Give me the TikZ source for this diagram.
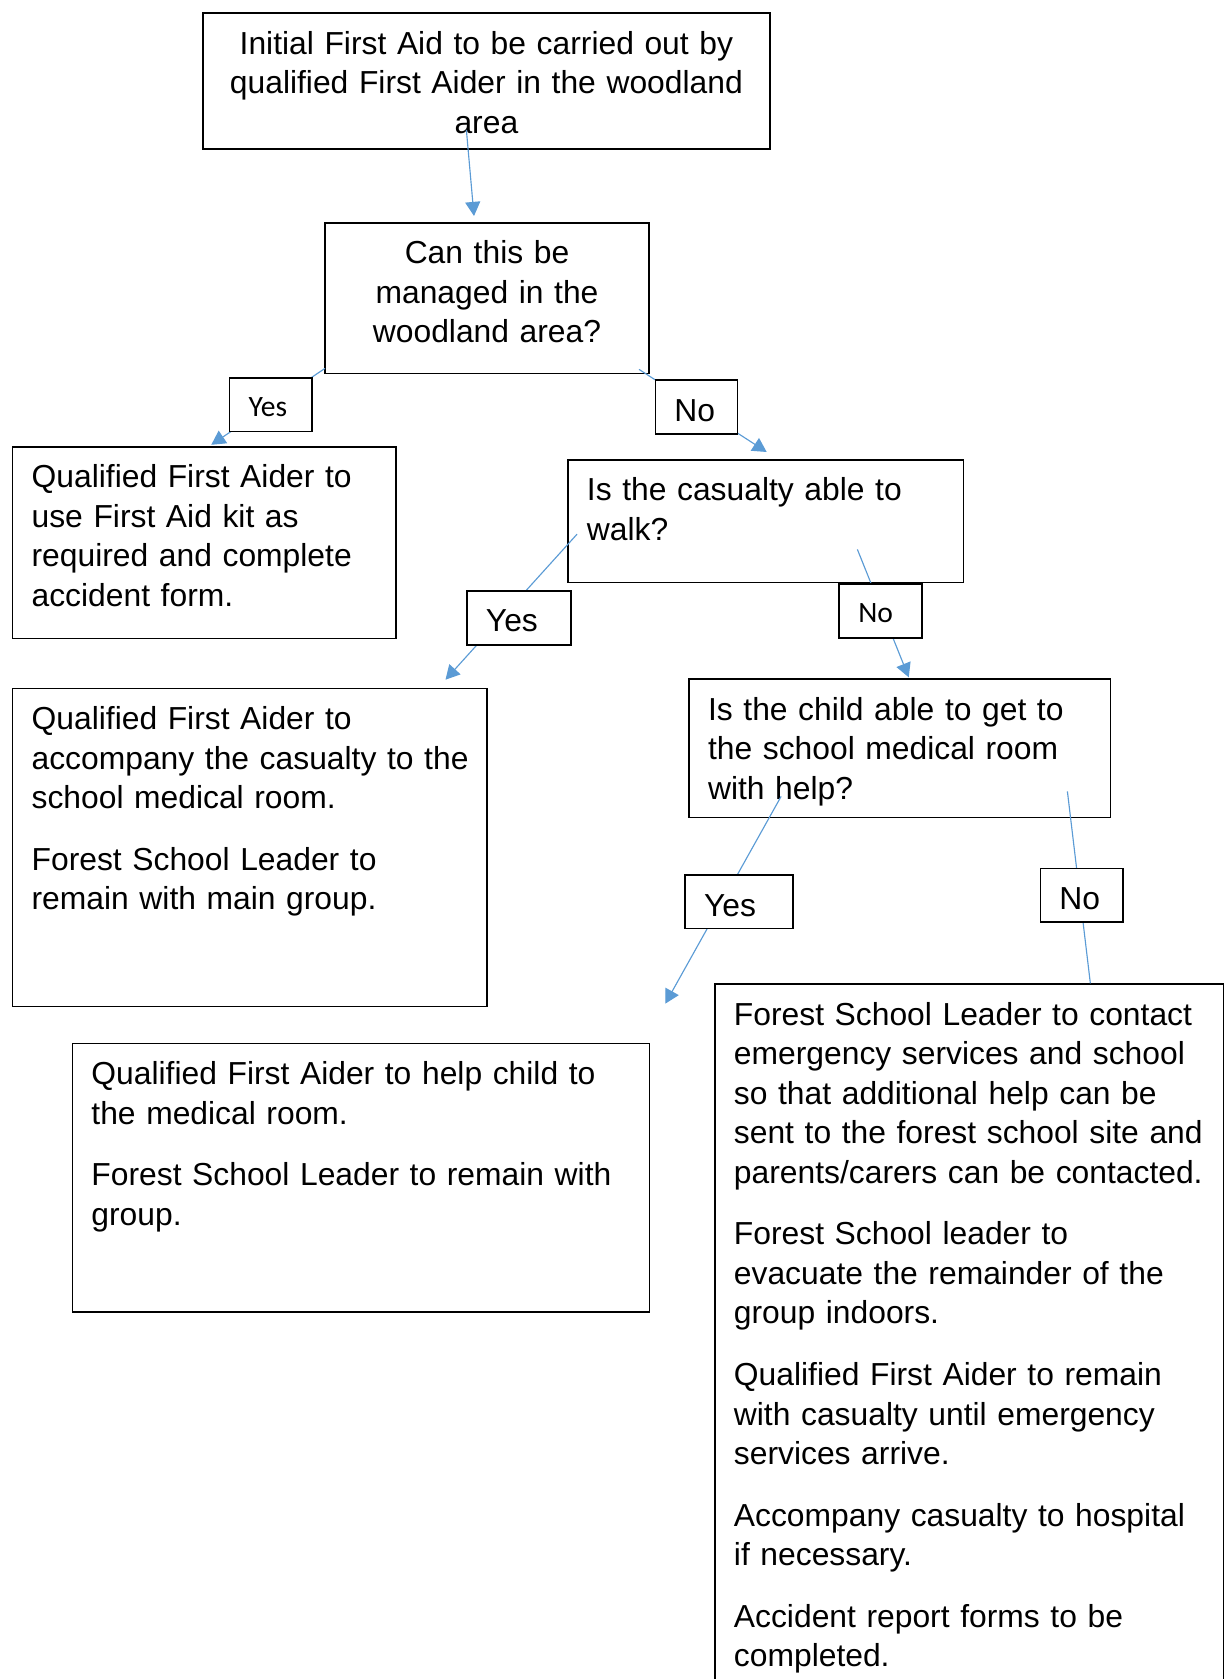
\documentclass[tikz,border=0pt]{standalone}
\usepackage{fontspec}
\setmainfont{Liberation Sans}
\newfontfamily\calibri{Carlito}
\usetikzlibrary{arrows.meta,calc}
\definecolor{wordblue}{HTML}{5B9BD5}
\begin{document}
\begin{tikzpicture}[x=0.44pt,y=-0.44pt]
                \tikzset{box/.style 2 args={draw, line width=.75pt, fill=white, anchor=north west,
                inner xsep=8.4pt, inner ysep=0pt, text height=18pt, text width=#1, text depth=#2,
                align=left, font=\fontsize{14}{17.4}\selectfont},
                tag/.style 2 args={box={#1}{#2}, text height=17pt, font=\calibri\fontsize{13}{16}\selectfont},
                flow/.style={draw=wordblue, line width=.5pt, -{Triangle[length=6.2pt,width=6.6pt]}},
                link/.style={draw=wordblue, line width=.5pt}}

                \clip (0,0) rectangle (1228,1679);

                \node[box={232.7pt}{41.8pt}, align=center] (init) at (202,12.3) {Initial First Aid to be carried out by\\ qualified First Aider in the woodland\\ area};
                \node[box={125.9pt}{48.3pt}, align=center] (q1) at (324,222) {Can this be\\ managed in the\\ woodland area?};
                \node[box={151.9pt}{66.4pt}] (kit) at (11.7,445.8) {Qualified First Aider to\\ use First Aid kit as\\ required and complete\\ accident form.};
                \node[box={157.3pt}{36pt}] (walk) at (567,459) {Is the casualty able to\\ walk?};
                \node[box={191.8pt}{121.9pt}] (accomp) at (11.7,687.7) {Qualified First Aider to\\ \mbox{accompany the casualty to the}\\ school medical room.\\[9.7pt] Forest School Leader to\\ remain with main group.};
                \node[box={168.7pt}{42.9pt}] (child) at (688.1,678.3) {Is the child able to get to\\ the school medical room\\ with help?};
                \node[box={237.1pt}{100.1pt}] (help) at (71.5,1042.7) {Qualified First Aider to help child to\\ the medical room.\\[9.7pt] Forest School Leader to remain with\\ group.};
                \node[box={207pt}{297.3pt}] (big) at (714,983.3) {Forest School Leader to contact\\ emergency services and school\\ so that additional help can be\\ \mbox{sent to the forest school site and}\\ \mbox{parents/carers can be contacted.}\\[9.7pt] Forest School leader to\\ evacuate the remainder of the\\ group indoors.\\[9.7pt] Qualified First Aider to remain\\ with casualty until emergency\\ services arrive.\\[9.7pt] Accompany casualty to hospital\\ if necessary.\\[9.7pt] Accident report forms to be\\ completed.};

                \draw[flow] ($(init.south)+(-20,-20)$) -- ($(q1.north)+(-13,-6)$);
                \draw[flow] ($(q1.south west)+(1,-6)$) -- ($(kit.north)+(7,-1)$);
                \draw[flow] ($(q1.south east)+(-11,-5)$) -- ($(walk.north)+(1,-7)$);
                \draw[flow] ($(walk.west)+(10,13)$) -- ($(accomp.north east)+(-42,-8)$);
                \draw[flow] ($(walk.south east)+(-107,-34)$) -- ($(child.north)+(9,-1)$);
                \draw[flow] ($(child.south west)+(93,-22)$) -- ($(help.north east)+(15,-39)$);
                \draw[link] ($(child.south east)+(-44,-27)$) -- ($(big.north east)+(-134,0)$);

                \node[tag={19.5pt}{6.6pt}] (yes1) at (228.7,377) {Yes};
                \node[box={19.4pt}{5.8pt}] (no1) at (654.5,379.3) {No};
                \node[box={29.1pt}{5.8pt}] (yes2) at (466,590) {Yes};
                \node[tag={19.6pt}{6.8pt}] (no2) at (838.3,583.3) {No};
                \node[box={30.8pt}{5.5pt}] (yes3) at (684.1,874.3) {Yes};
                \node[box={19.7pt}{5.5pt}] (no3) at (1039.5,867.7) {No};
\end{tikzpicture}
\end{document}
